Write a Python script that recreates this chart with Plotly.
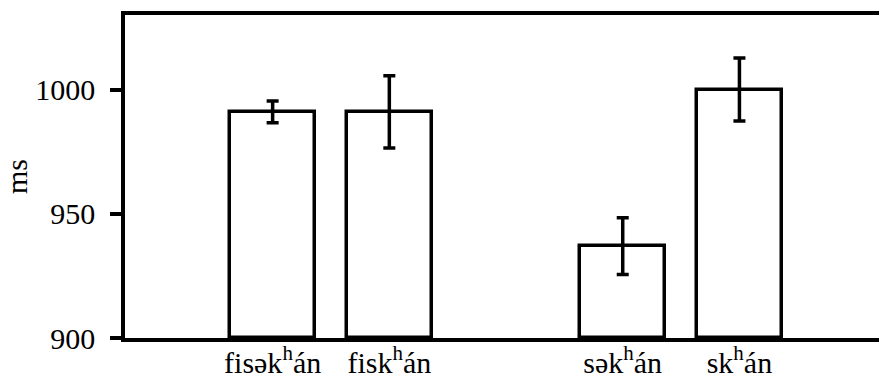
import plotly.graph_objects as go

# Mean durations (ms) with error-bar half-widths
labels = ["fisək<sup>h</sup>án", "fisk<sup>h</sup>án", "sək<sup>h</sup>án", "sk<sup>h</sup>án"]
positions = [0, 1, 3, 4]
means = [991, 991, 937, 1000]
errors = [4.4, 14.5, 11.4, 12.7]
y_ticks = [900, 950, 1000]

FONT = "Liberation Serif"

fig = go.Figure(
    go.Bar(
        x=positions,
        y=[m - 900 for m in means],
        base=900,
        width=0.73,
        marker=dict(color="white", line=dict(color="black", width=3.5)),
        error_y=dict(type="data", array=errors, color="black", thickness=3.5, width=6),
        showlegend=False,
    )
)

fig.update_layout(
    width=879,
    height=381,
    margin=dict(l=125, r=0, t=15, b=43),
    paper_bgcolor="white",
    plot_bgcolor="white",
    font=dict(family=FONT, size=30, color="black"),
    bargap=0,
)

fig.update_xaxes(
    range=[-1.265, 5.196],
    tickvals=positions,
    ticktext=labels,
    ticks="",
    showline=True,
    linecolor="black",
    linewidth=4,
    mirror=True,
    showgrid=False,
    zeroline=False,
    automargin=False,
    ticklabelstandoff=-5,
    tickfont=dict(family=FONT, size=30),
)

fig.update_yaxes(
    range=[900, 1030],
    tickvals=y_ticks,
    ticks="outside",
    ticklen=11,
    tickwidth=3.5,
    tickcolor="black",
    showline=True,
    linecolor="black",
    linewidth=3.5,
    showgrid=False,
    zeroline=False,
    automargin=False,
    ticklabelstandoff=9,
    title=dict(text="ms", font=dict(family=FONT, size=30), standoff=3),
    tickfont=dict(family=FONT, size=30),
)

fig.write_html("out.html")
